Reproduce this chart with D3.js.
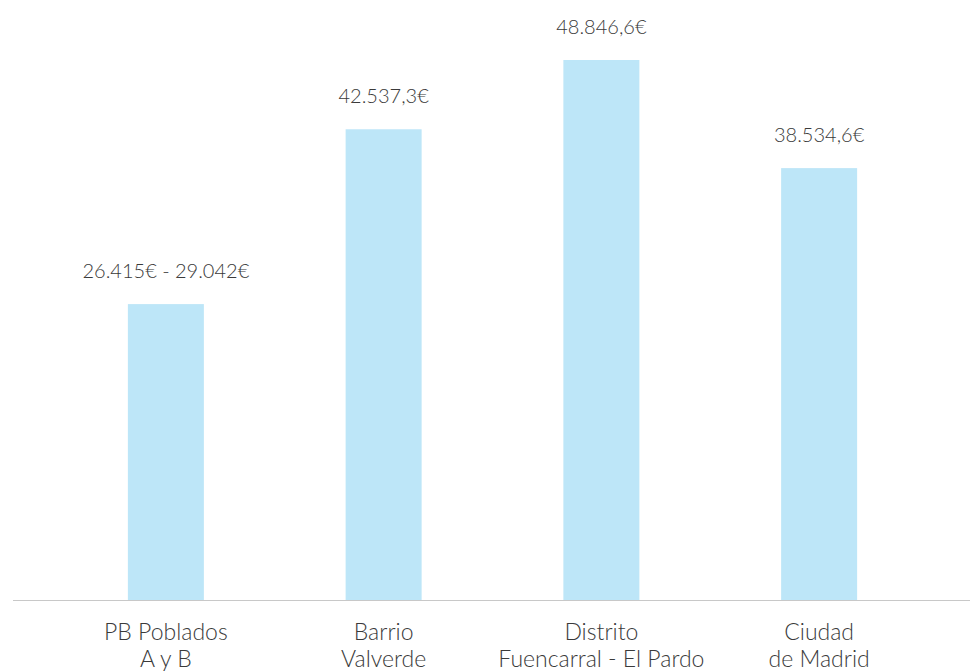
<!DOCTYPE html>
<html>
<head>
<meta charset="utf-8">
<script src="https://cdn.jsdelivr.net/npm/d3@7"></script>
<style>
  body { margin: 0; background: #fff; }
  text { font-family: Lato, "Open Sans", sans-serif; font-weight: 300; fill: #3a3a3a; }
</style>
</head>
<body>
<script>
// categories (two lines each)
var categories = [["PB Poblados", "A y B"], ["Barrio", "Valverde"], ["Distrito", "Fuencarral - El Pardo"], ["Ciudad", "de Madrid"]];
// bar heights
var values = [26740, 42540, 48800, 39030];
// label values; first bar shows a range
var rangeFirst = [26415, 29042];
var labelValues = [null, 42537.3, 48846.6, 38534.6];

var width = 970, height = 671;
var es = d3.formatLocale({decimal: ",", thousands: ".", grouping: [3], currency: ["", "€"]});
var fmt1 = es.format(",.1f"), fmt0 = es.format(",d");

var svg = d3.select("body").append("svg")
    .attr("width", width)
    .attr("height", height);

var x = d3.scalePoint()
    .domain(d3.range(categories.length))
    .range([57, 928])
    .padding(0.5);

var y = d3.scaleLinear()
    .domain([0, 48800])
    .range([600, 60]);

var barW = 76;

svg.selectAll("rect.bar")
    .data(values)
  .enter().append("rect")
    .attr("class", "bar")
    .attr("x", function(d, i) { return x(i) - barW / 2; })
    .attr("y", function(d) { return y(d); })
    .attr("width", barW)
    .attr("height", function(d) { return y(0) - y(d); })
    .attr("fill", "#bde6f8");

// baseline
svg.append("line")
    .attr("x1", 13).attr("x2", width)
    .attr("y1", y(0) + 0.5).attr("y2", y(0) + 0.5)
    .attr("stroke", "#c8c8c8")
    .attr("stroke-width", 1);

// value labels
svg.selectAll("text.val")
    .data(values)
  .enter().append("text")
    .attr("class", "val")
    .attr("x", function(d, i) { return x(i); })
    .attr("y", function(d) { return y(d) - 26; })
    .attr("text-anchor", "middle")
    .style("font-size", "20px")
    .text(function(d, i) {
      if (i === 0) return fmt0(rangeFirst[0]) + "€ - " + fmt0(rangeFirst[1]) + "€";
      return fmt1(labelValues[i]) + "€";
    });

// category labels
var cat = svg.selectAll("text.cat")
    .data(categories)
  .enter().append("text")
    .attr("class", "cat")
    .attr("text-anchor", "middle")
    .style("font-size", "23px");

cat.selectAll("tspan")
    .data(function(d, i) { return d.map(function(s) { return {s: s, i: i}; }); })
  .enter().append("tspan")
    .attr("x", function(d) { return x(d.i); })
    .attr("y", function(d, j) { return 640 + j * 27; })
    .text(function(d) { return d.s; });
</script>
</body>
</html>
